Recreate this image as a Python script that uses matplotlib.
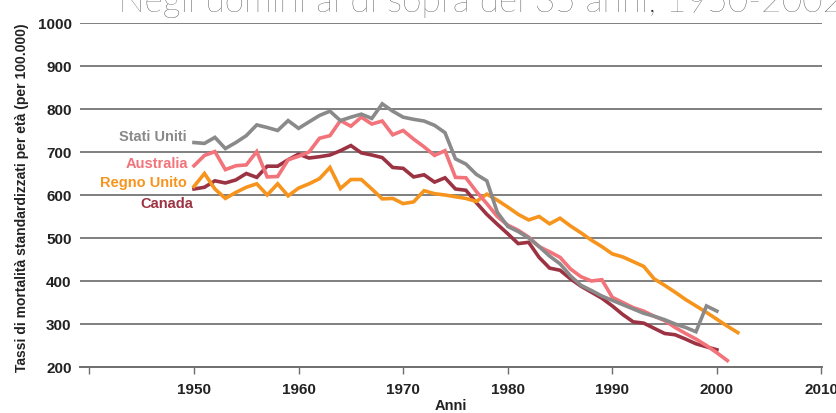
"Tassi di mortalita' standardizzati per eta', uomini sopra i 35 anni"

import matplotlib
matplotlib.use("Agg")
import matplotlib.pyplot as plt

#####
# Data
#####

years_us = list(range(1950, 2001))
stati_uniti = [722, 720, 734, 708, 722, 738, 763, 757, 750, 773,
               755, 770, 785, 795, 773, 781, 788, 778, 812, 795,
               781, 776, 772, 762, 745, 684, 672, 648, 633, 560,
               527, 515, 500, 480, 458, 440, 412, 390, 378, 365,
               355, 345, 335, 325, 318, 310, 300, 292, 282, 342,
               330]

years_au = list(range(1950, 2002))
australia = [668, 692, 701, 659, 668, 670, 701, 642, 643, 682,
             690, 700, 732, 738, 773, 760, 781, 765, 772, 740,
             750, 730, 712, 692, 703, 641, 640, 608, 580, 550,
             530, 518, 502, 480, 468, 455, 428, 410, 400, 403,
             362, 350, 338, 330, 318, 308, 292, 278, 265, 250,
             233, 215]

years_uk = list(range(1950, 2003))
regno_unito = [620, 650, 614, 592, 606, 618, 626, 600, 626, 598,
               616, 626, 638, 664, 615, 636, 636, 614, 591, 592,
               580, 584, 610, 603, 600, 596, 592, 585, 602, 588,
               572, 555, 542, 550, 533, 546, 528, 512, 495, 480,
               463, 456, 445, 434, 405, 390, 374, 357, 342, 327,
               311, 295, 280]

years_ca = list(range(1950, 2001))
canada = [614, 618, 633, 628, 635, 650, 641, 667, 667, 682,
          695, 686, 689, 693, 703, 715, 698, 693, 687, 664,
          662, 642, 647, 630, 640, 614, 611, 582, 555, 532,
          510, 487, 490, 455, 430, 425, 405, 388, 374, 360,
          342, 322, 305, 302, 290, 278, 275, 265, 254, 247,
          240]

xticks = [1940, 1950, 1960, 1970, 1980, 1990, 2000, 2010]
xticklabels = ["", "1950", "1960", "1970", "1980", "1990", "2000", "2010"]
yticks = [200, 300, 400, 500, 600, 700, 800, 900, 1000]

#####
# Styles
#####

COND = ["Liberation Sans Narrow", "Liberation Sans", "DejaVu Sans"]
GREY = "#8a8a8a"
PINK = "#f2737a"
ORANGE = "#f7941d"
DARKRED = "#9c3343"

series = [
    (years_us, stati_uniti, GREY, "Stati Uniti", 137),
    (years_au, australia, PINK, "Australia", 164),
    (years_uk, regno_unito, ORANGE, "Regno Unito", 183),
    (years_ca, canada, DARKRED, "Canada", 204),
]

#####
# Plot
#####

fig = plt.figure(figsize=(8.36, 4.14), dpi=100)
ax = fig.add_axes([80 / 836, 1 - 368 / 414, 742 / 836, 344 / 414])

# Horizontal gridlines
for y in yticks[1:]:
    ax.axhline(y, color="#7f7f7f", lw=1.4, zorder=1)

# Lines, drawn back to front
for x, v, color, name, ypix in series[::-1]:
    ax.plot(x, v, color=color, lw=2.6, solid_joinstyle="miter", zorder=3)

# Inline labels (right aligned, left of the lines)
label_right = {"Stati Uniti": 187, "Australia": 188, "Regno Unito": 187, "Canada": 193}
for x, v, color, name, ypix in series:
    fig.text(label_right[name] / 836, 1 - ypix / 414, name, color=color,
             family=COND, weight="bold", fontsize=10.5, ha="right", va="center")

# Axes
ax.set_xlim(1939.1, 2010.05)
ax.set_ylim(200, 1000)
ax.set_xticks(xticks)
ax.set_xticklabels(xticklabels)
ax.set_yticks(yticks)
for s in ["top", "right", "left"]:
    ax.spines[s].set_visible(False)
ax.spines["bottom"].set_color("#6e6e6e")
ax.spines["bottom"].set_linewidth(1.4)
ax.tick_params(axis="x", direction="out", length=5, width=1, color="#6e6e6e", pad=6)
ax.tick_params(axis="y", length=0, pad=6)
for lab in ax.get_xticklabels() + ax.get_yticklabels():
    lab.set_family(COND)
    lab.set_weight("bold")
    lab.set_fontsize(11)
    lab.set_color("#222222")

ax.set_xlabel("Anni", family=COND, weight="bold", fontsize=10.5, color="#222222", labelpad=1)
fig.text(22 / 836, 1 - 198 / 414, "Tassi di mortalità standardizzati per età (per 100.000)",
         family=COND, weight="bold", fontsize=10, color="#222222",
         rotation=90, ha="center", va="center")

# Title, cut off at the top edge as in the source
fig.text(118 / 836, 1 - 12 / 414, "Negli uomini al di sopra dei 35 anni, 1950-2002",
         family=["Lato", "Open Sans", "DejaVu Sans"], weight="light", fontsize=25.5,
         color="#333333", ha="left", va="baseline")

fig.savefig("out.png", dpi=100)
